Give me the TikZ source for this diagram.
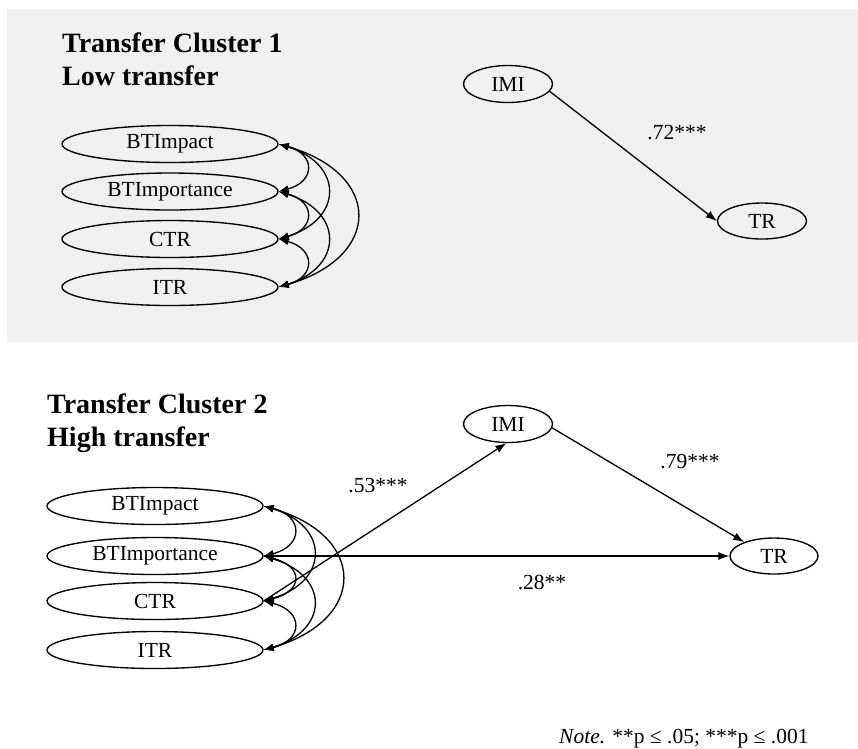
\documentclass[tikz,border=0pt]{standalone}
\usepackage{fontspec}
\setmainfont{Liberation Serif}
\usetikzlibrary{shapes.geometric,arrows.meta,calc}
\definecolor{panelgray}{HTML}{F0F0F0}
\begin{document}
\begin{tikzpicture}[x=1pt,y=-1pt,
  var/.style={ellipse, draw, line width=1.35pt, minimum width=216pt, minimum height=37pt,
    inner sep=0pt, font=\fontsize{21.5}{24}\selectfont},
  small/.style={var, minimum width=89pt, minimum height=37pt},
  effect/.style={line width=1.3pt, -{Latex[length=11pt,width=8pt]}},
  cov/.style={line width=1.3pt, {Latex[length=10pt,width=7.5pt]}-{Latex[length=10pt,width=7.5pt]}},
  coef/.style={font=\fontsize{21.5}{24}\selectfont, inner sep=0pt},
  heading/.style={font=\fontsize{28}{33}\selectfont\bfseries, anchor=base west, inner sep=0pt}]

\useasboundingbox (0,0) rectangle (858,748);

% shaded panel for the first cluster
\fill[panelgray] (7,9) rectangle (858,342);

% ---------- Cluster 1 ----------
\node[heading] (h1a) at (62,52) {Transfer Cluster 1};
\node[heading] (h1b) at (62,85) {Low transfer};

\node[var] (a1) at (170,144) {BTImpact};
\node[var] (a2) at (170,191.5) {BTImportance};
\node[var] (a3) at (170,239) {CTR};
\node[var] (a4) at (170,287) {ITR};

\foreach \i/\j/\c/\k in {1/2/37/10, 2/3/37/10, 3/4/37/10, 1/3/65/20, 2/4/65/20, 1/4/104/30}
  \draw[cov] (a\i.east) .. controls ($(a\i.east)+(\c,\k)$) and ($(a\j.east)+(\c,-\k)$) .. (a\j.east);

\node[small] (imi1) at (508,84) {IMI};
\node[small, minimum height=36pt] (tr1) at (762,221) {TR};
\draw[effect] (imi1.-10) -- (tr1.west);
\node[coef] (c72) at (677,133) {.72***};

% ---------- Cluster 2 ----------
\node[heading] (h2a) at (47,413) {Transfer Cluster 2};
\node[heading] (h2b) at (47,446) {High transfer};

\node[var] (b1) at (155,506) {BTImpact};
\node[var] (b2) at (155,556) {BTImportance};
\node[var] (b3) at (155,601) {CTR};
\node[var] (b4) at (155,650) {ITR};

\foreach \i/\j/\c/\k in {1/2/40/10, 2/3/40/10, 3/4/40/10, 1/3/66/20, 2/4/66/20, 1/4/104/30}
  \draw[cov] (b\i.east) .. controls ($(b\i.east)+(\c,\k)$) and ($(b\j.east)+(\c,-\k)$) .. (b\j.east);

\node[small] (imi2) at (508,424) {IMI};
\node[small, minimum width=88pt, minimum height=36pt] (tr2) at (774,556) {TR};

\draw[effect] (b3.east) -- (imi2.-95);
\draw[effect] (imi2.-5) -- (tr2.155);
\draw[effect] (b2.east) -- (tr2.west);

\node[coef] (c53) at (378,486) {.53***};
\node[coef] (c79) at (690,462) {.79***};
\node[coef] (c28) at (542,582) {.28**};

% significance note
\node[coef, anchor=base west] (note) at (559,743) {\textit{Note.} **p ≤ .05; ***p ≤ .001};
\end{tikzpicture}
\end{document}
